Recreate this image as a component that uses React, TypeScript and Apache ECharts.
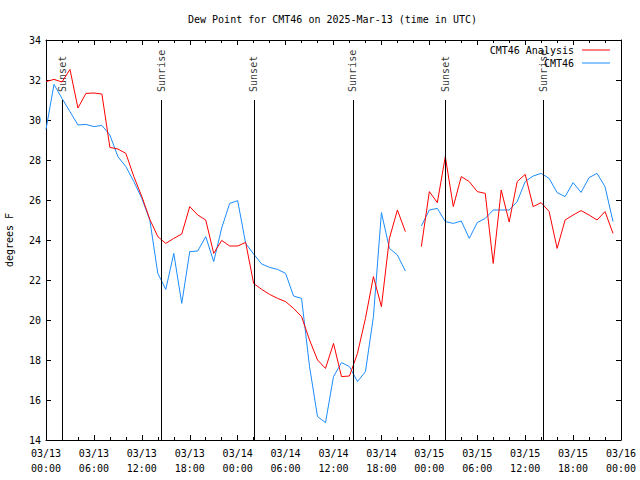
import React, { useEffect, useRef } from "react";
import * as echarts from "echarts";

const titleText = "Dew Point for CMT46 on 2025-Mar-13 (time in UTC)";
const startTime = "2025-03-13T00:00:00Z";
const endTime = "2025-03-16T00:00:00Z";
const yTicks = { min: 14, max: 34, step: 2 };

// hourly values from 03/13 00:00 UTC (null = missing hour)
const analysisValues: (number | null)[] = [
  31.92, 32.03, 31.9, 32.53, 30.6, 31.33, 31.35, 31.3, 28.63, 28.55, 28.33, 27.17,
  26.17, 25.03, 24.17, 23.83, 24.08, 24.3, 25.67, 25.25, 25.0, 23.33, 23.98, 23.7,
  23.7, 23.88, 21.83, 21.53, 21.28, 21.08, 20.92, 20.58, 20.17, 19.0, 18.0, 17.58,
  18.83, 17.17, 17.2, 18.33, 20.08, 22.17, 20.67, 24.08, 25.5, 24.42, null, 23.67,
  26.42, 25.87, 28.17, 25.67, 27.17, 26.92, 26.42, 26.33, 22.83, 26.5, 24.9, 26.92,
  27.28, 25.67, 25.87, 25.42, 23.58, 25.0, 25.25, 25.47, 25.25, 25.0, 25.42, 24.33,
];
const observedValues: (number | null)[] = [
  29.53, 31.78, 31.08, 30.42, 29.75, 29.78, 29.67, 29.73, 29.25, 28.17, 27.67, 26.92,
  26.08, 25.0, 22.33, 21.53, 23.33, 20.83, 23.42, 23.45, 24.17, 22.92, 24.6, 25.83,
  25.97, 23.83, 23.3, 22.8, 22.63, 22.53, 22.33, 21.2, 21.08, 17.67, 15.17, 14.87,
  17.17, 17.87, 17.67, 16.92, 17.42, 20.17, 25.37, 23.58, 23.25, 22.45, null, 24.7,
  25.5, 25.58, 24.92, 24.83, 24.95, 24.08, 24.87, 25.08, 25.5, 25.5, 25.5, 25.92,
  26.92, 27.2, 27.33, 27.08, 26.37, 26.17, 26.87, 26.38, 27.12, 27.33, 26.67, 24.92,
];
const seriesNames = ["CMT46 Analysis", "CMT46"];
const sunEventNames = ["Sunset", "Sunrise", "Sunset", "Sunrise", "Sunset", "Sunrise"];
const sunEventTimes = [
  "2025-03-13T02:02:00Z", "2025-03-13T14:25:00Z", "2025-03-14T02:02:00Z",
  "2025-03-14T14:25:00Z", "2025-03-15T02:02:00Z", "2025-03-15T14:17:00Z",
];
const sunLineTop = 31;

const HOUR = 3600000;
const FONT = "'DejaVu Sans Mono', 'Liberation Mono', monospace";

function pad(n: number) {
  return n < 10 ? "0" + n : "" + n;
}
function fmtTime(v: number) {
  const d = new Date(v);
  return `${pad(d.getUTCMonth() + 1)}/${pad(d.getUTCDate())}\n${pad(d.getUTCHours())}:${pad(d.getUTCMinutes())}`;
}

export default function App() {
  const ref = useRef<HTMLDivElement>(null);
  useEffect(() => {
    if (!ref.current) return;
    const chart = echarts.init(ref.current, undefined, { renderer: "svg" });
    const t0 = Date.parse(startTime);
    const t1 = Date.parse(endTime);
    const toSeries = (vals: (number | null)[]) => vals.map((v, i) => [t0 + i * HOUR, v]);
    const sunTimes = sunEventTimes.map((s) => Date.parse(s));

    const xCommon = {
      type: "value" as const,
      min: t0,
      max: t1,
      interval: 6 * HOUR,
      axisLine: { show: true, onZero: false, lineStyle: { color: "#000", width: 1 } },
      axisTick: { show: true, inside: true, length: 5, lineStyle: { color: "#000" } },
      minorTick: { show: true, splitNumber: 3, length: 3, lineStyle: { color: "#000" } },
      splitLine: { show: false },
      minorSplitLine: { show: false },
    };
    const yCommon = {
      type: "value" as const,
      min: yTicks.min,
      max: yTicks.max,
      interval: yTicks.step,
      axisLine: { show: true, onZero: false, lineStyle: { color: "#000", width: 1 } },
      axisTick: { show: true, inside: true, length: 5, lineStyle: { color: "#000" } },
      splitLine: { show: false },
    };

    chart.setOption({
      animation: false,
      backgroundColor: "#fff",
      textStyle: { fontFamily: FONT },
      title: {
        text: titleText,
        left: 183,
        top: 9,
        textStyle: { fontFamily: FONT, fontSize: 10, fontWeight: "normal", color: "#000" },
      },
      legend: {
        orient: "vertical",
        right: 25,
        top: 40,
        align: "right",
        icon: "rect",
        itemWidth: 28,
        itemHeight: 1,
        itemGap: 3,
        data: seriesNames,
        textStyle: { fontFamily: FONT, fontSize: 10, color: "#000", padding: [0, 3, 0, 0] },
      },
      grid: {
        left: 46,
        right: 19,
        top: 40,
        bottom: 40,
        containLabel: false,
        outerBoundsMode: "none",
      },
      xAxis: [
        {
          ...xCommon,
          position: "bottom",
          axisLabel: {
            show: true,
            formatter: (v: number) => fmtTime(v),
            fontFamily: FONT,
            fontSize: 10,
            lineHeight: 15,
            color: "#000",
            margin: 6,
          },
        },
        { ...xCommon, position: "top", axisLabel: { show: false } },
      ],
      yAxis: [
        {
          ...yCommon,
          position: "left",
          name: "degrees F",
          nameLocation: "middle",
          nameGap: 32,
          nameRotate: 90,
          nameTextStyle: { fontFamily: FONT, fontSize: 10, color: "#000" },
          axisLabel: { show: true, fontFamily: FONT, fontSize: 10, color: "#000", margin: 5 },
        },
        { ...yCommon, position: "right", axisLabel: { show: false } },
      ],
      series: [
        {
          name: seriesNames[0],
          type: "line",
          data: toSeries(analysisValues),
          symbol: "none",
          connectNulls: false,
          lineStyle: { color: "#ff0000", width: 1 },
          itemStyle: { color: "#ff0000" },
          z: 3,
        },
        {
          name: seriesNames[1],
          type: "line",
          data: toSeries(observedValues),
          symbol: "none",
          connectNulls: false,
          lineStyle: { color: "#1a8cff", width: 1 },
          itemStyle: { color: "#1a8cff" },
          z: 2,
        },
        {
          name: "sun",
          type: "scatter",
          silent: true,
          symbolSize: 0.1,
          itemStyle: { color: "rgba(0,0,0,0)" },
          data: sunTimes.map((t, i) => ({ value: [t, sunLineTop], name: sunEventNames[i] })),
          label: {
            show: true,
            formatter: (p: any) => p.name,
            position: "top",
            distance: 8,
            rotate: 90,
            align: "left",
            verticalAlign: "middle",
            fontFamily: FONT,
            fontSize: 10,
            color: "#000",
          },
          markLine: {
            silent: true,
            symbol: ["none", "none"],
            label: { show: false },
            lineStyle: { color: "#000", width: 1, type: "solid" },
            data: sunTimes.map((t) => [
              { coord: [t, yTicks.min] },
              { coord: [t, sunLineTop] },
            ]),
          },
        },
      ],
    });
    return () => chart.dispose();
  }, []);
  return (
    <div
      ref={ref}
      style={{ position: "absolute", left: 0, top: 0, width: 640, height: 480 }}
    />
  );
}
